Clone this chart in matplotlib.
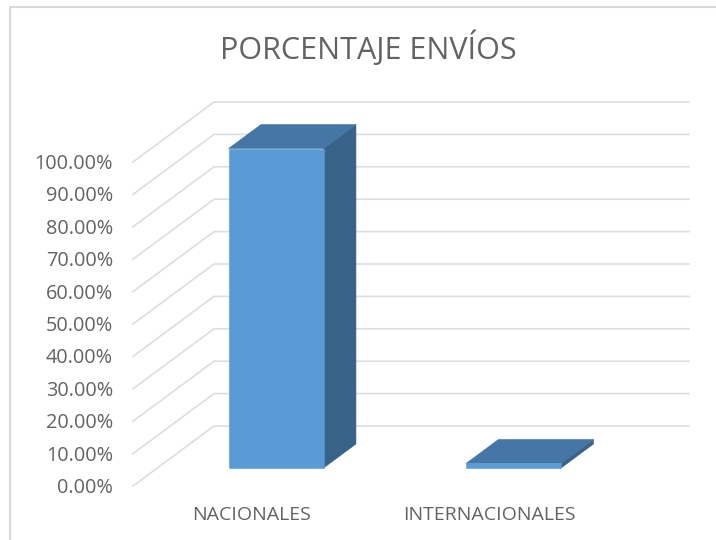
import matplotlib
matplotlib.use("Agg")
import matplotlib.pyplot as plt
from matplotlib.patches import Polygon

title = "PORCENTAJE ENVÍOS"
categories = ["NACIONALES", "INTERNACIONALES"]
values = [98.6, 1.4]
ticks = [0, 10, 20, 30, 40, 50, 60, 70, 80, 90, 100]
tick_labels = ["0.00%", "10.00%", "20.00%", "30.00%", "40.00%", "50.00%",
               "60.00%", "70.00%", "80.00%", "90.00%", "100.00%"]

W, H = 716, 540
X_UNIT, Y_UNIT = 237.5, 3.24      # pixels per category / per percent on the back wall
X0_PX, Y0_PX = 214, 426           # back-wall origin in pixels
DEPTH_X, DEPTH_Y = -81 / X_UNIT, -60 / Y_UNIT  # shift from back wall to front of floor

FRONT, SIDE, TOP = "#5B9BD5", "#386287", "#4576A5"
GRID, TEXT = "#DEDEDE", "#636363"
plt.rcParams["font.family"] = ["Open Sans", "DejaVu Sans"]

fig = plt.figure(figsize=(W / 100, H / 100), dpi=100, facecolor="white")
ax = fig.add_axes([0, 0, 1, 1])
ax.set_xlim(-X0_PX / X_UNIT, (W - X0_PX) / X_UNIT)
ax.set_ylim(-(H - Y0_PX) / Y_UNIT, Y0_PX / Y_UNIT)
ax.axis("off")


def project(x, y, t):
    """Oblique projection: t=0 is the back wall, t=1 the front edge of the floor."""
    return x + t * DEPTH_X, y + t * DEPTH_Y


# Gridlines
for v in ticks:
    x0, y0 = project(0, v, 1)
    x1, y1 = project(0, v, 0)
    ax.plot([x0, x1, 2], [y0, y1, y1], color=GRID, lw=1.2, solid_joinstyle="miter", zorder=1)

# Axis labels
for v, lab in zip(ticks, tick_labels):
    x0, y0 = project(0, v, 1)
    ax.annotate(lab, (x0, y0), xytext=(-20, -2), textcoords="offset pixels",
                ha="right", va="center", fontsize=14.3, color=TEXT)

# Bars
BAR_W, T_FRONT, T_BACK = 0.4, 0.7, 0.3
for i, v in enumerate(values):
    xc = i + 0.5
    xl, xr = xc - BAR_W / 2, xc + BAR_W / 2
    front = [project(xl, 0, T_FRONT), project(xr, 0, T_FRONT), project(xr, v, T_FRONT), project(xl, v, T_FRONT)]
    side = [project(xr, 0, T_FRONT), project(xr, 0, T_BACK), project(xr, v, T_BACK), project(xr, v, T_FRONT)]
    top = [project(xl, v, T_FRONT), project(xr, v, T_FRONT), project(xr, v, T_BACK), project(xl, v, T_BACK)]
    for pts, c in ((side, SIDE), (top, TOP), (front, FRONT)):
        ax.add_patch(Polygon(pts, closed=True, facecolor=c, edgecolor=c, lw=0.4, zorder=3))
    lx, ly = project(xc, 0, 1)
    ax.annotate(categories[i], (lx, ly), xytext=(0, -29), textcoords="offset pixels",
                ha="center", va="center", fontsize=14.0, color=TEXT)

fig.text(368.5 / W, 1 - 48 / H, title, ha="center", va="center", fontsize=22, color=TEXT)

# Chart frame
FRAME = "#D9D9D9"
fig.add_artist(plt.Line2D([9.5 / W, 9.5 / W, 1], [0, 1 - 6.5 / H, 1 - 6.5 / H], color=FRAME, lw=1.5,
                          solid_joinstyle="miter"))

fig.savefig("out.png", dpi=100, facecolor="white")
